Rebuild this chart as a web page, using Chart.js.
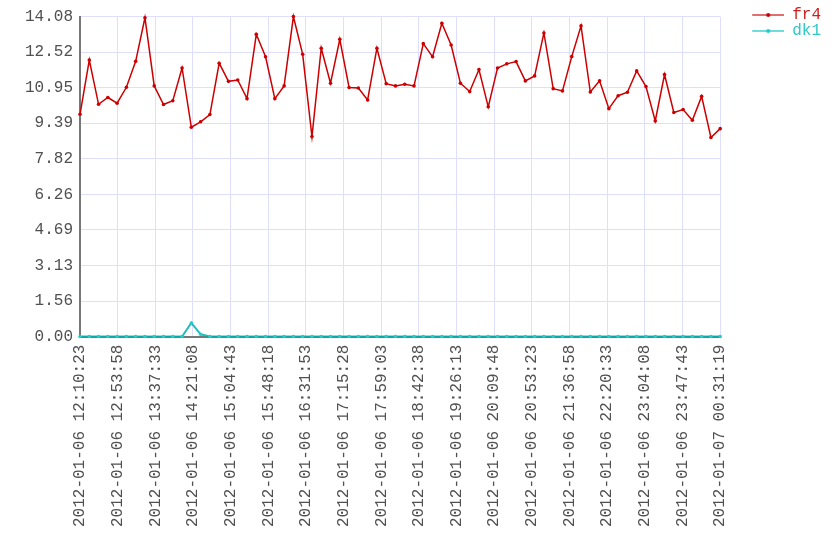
<!DOCTYPE html>
<html>
<head>
  <meta charset="UTF-8" />
  <title>fr4 / dk1</title>
  <script src="https://cdn.jsdelivr.net/npm/chart.js"></script>
  <style>
    body { margin: 0; background: #fff; }
    #wrap { width: 840px; height: 560px; }
  </style>
</head>
<body>
  <div id="wrap"><canvas id="grafico" width="840" height="560"></canvas></div>

  <script>
    // tick labels of the time axis (17 equal steps over the run)
    const xTickLabels = [
      '2012-01-06 12:10:23', '2012-01-06 12:53:58', '2012-01-06 13:37:33',
      '2012-01-06 14:21:08', '2012-01-06 15:04:43', '2012-01-06 15:48:18',
      '2012-01-06 16:31:53', '2012-01-06 17:15:28', '2012-01-06 17:59:03',
      '2012-01-06 18:42:38', '2012-01-06 19:26:13', '2012-01-06 20:09:48',
      '2012-01-06 20:53:23', '2012-01-06 21:36:58', '2012-01-06 22:20:33',
      '2012-01-06 23:04:08', '2012-01-06 23:47:43', '2012-01-07 00:31:19'
    ];
    const yTicks = [0, 1.5644, 3.1289, 4.6933, 6.2578, 7.8222, 9.3867, 10.9511, 12.5156, 14.08];

    const fr4 = [
      9.78, 12.17, 10.22, 10.52, 10.27, 10.97, 12.11, 14.03, 11.03, 10.21,
      10.38, 11.82, 9.21, 9.45, 9.77, 12.03, 11.23, 11.29, 10.47, 13.30,
      12.31, 10.47, 11.03, 14.08, 12.42, 8.80, 12.69, 11.15, 13.08, 10.96,
      10.94, 10.41, 12.69, 11.13, 11.03, 11.10, 11.03, 12.89, 12.31, 13.79,
      12.83, 11.15, 10.78, 11.75, 10.11, 11.82, 12.00, 12.10, 11.25, 11.47,
      13.36, 10.91, 10.81, 12.32, 13.67, 10.76, 11.26, 10.03, 10.60, 10.75,
      11.69, 11.00, 9.49, 11.53, 9.86, 9.99, 9.52, 10.57, 8.76, 9.15
    ];
    const dk1 = [
      0, 0, 0, 0, 0, 0, 0, 0, 0, 0,
      0, 0, 0.60, 0.10, 0, 0, 0, 0, 0, 0,
      0, 0, 0, 0, 0, 0, 0, 0, 0, 0,
      0, 0, 0, 0, 0, 0, 0, 0, 0, 0,
      0, 0, 0, 0, 0, 0, 0, 0, 0, 0,
      0, 0, 0, 0, 0, 0, 0, 0, 0, 0,
      0, 0, 0, 0, 0, 0, 0, 0, 0, 0
    ];

    const nPts = fr4.length - 1;

    // little line+dot sample for the legend
    function amostra(linha, ponto) {
      const c = document.createElement('canvas');
      c.width = 32; c.height = 6;
      const g = c.getContext('2d');
      g.fillStyle = linha;
      g.fillRect(0, 2, 32, 2);
      g.fillStyle = ponto;
      g.beginPath(); g.arc(16, 3, 2, 0, Math.PI * 2); g.fill();
      return c;
    }

    const series = [
      { nome: 'fr4', dados: fr4, cor: '#cc0000', legLinha: '#e07070', legTexto: '#cc2020' },
      { nome: 'dk1', dados: dk1, cor: '#20cccc', legLinha: '#70dddd', legTexto: '#30c8c8' }
    ];

    Chart.defaults.font.family = "'Liberation Mono', monospace";
    Chart.defaults.font.size = 16;
    Chart.defaults.color = '#505050';

    new Chart(document.getElementById('grafico'), {
      type: 'line',
      data: {
        datasets: series.map((s, k) => ({
          label: s.nome,
          data: s.dados.map((v, i) => ({ x: i, y: v })),
          borderColor: k === 1 ? 'rgba(0,175,175,0.85)' : s.cor,
          backgroundColor: s.cor,
          pointBackgroundColor: s.cor,
          pointBorderColor: s.cor,
          borderWidth: k === 1 ? 2 : 1.5,
          pointRadius: 1.8,
          pointBorderWidth: 0,
          tension: 0,
          clip: false,
          order: -k
        }))
      },
      options: {
        responsive: false,
        animation: false,
        layout: { padding: { left: 18, top: 7, right: 9, bottom: 25 } },
        plugins: {
          tooltip: { enabled: false },
          legend: {
            position: 'right',
            align: 'start',
            labels: {
              usePointStyle: true,
              pointStyleWidth: 32,
              padding: 0,
              font: { family: "'Liberation Mono', monospace", size: 16 },
              generateLabels: (chart) => series.map((s, i) => ({
                text: s.nome,
                fontColor: s.legTexto,
                pointStyle: amostra(s.legLinha, s.cor),
                datasetIndex: i,
                hidden: false,
                lineWidth: 0,
                strokeStyle: 'transparent',
                fillStyle: 'transparent'
              }))
            }
          }
        },
        scales: {
          x: {
            type: 'linear',
            min: 0,
            max: nPts,
            afterBuildTicks: (s) => { s.ticks = xTickLabels.map((t, k) => ({ value: k * nPts / (xTickLabels.length - 1) })); },
            ticks: {
              autoSkip: false,
              minRotation: 90,
              maxRotation: 90,
              padding: 8,
              callback: (v, i) => xTickLabels[i]
            },
            grid: { color: '#dedeff', drawTicks: false },
            border: { color: '#777', width: 2 }
          },
          y: {
            min: 0,
            max: 14.08,
            afterBuildTicks: (s) => { s.ticks = yTicks.map(v => ({ value: v })); },
            ticks: { padding: 7, callback: (v) => v.toFixed(2) },
            grid: { color: '#dedeff', drawTicks: false },
            border: { color: '#777', width: 2 }
          },
          espaco: {
            type: 'linear',
            position: 'right',
            display: true,
            ticks: { display: false },
            grid: { display: false, drawTicks: false },
            border: { display: false },
            afterFit: (s) => { s.width = 32; }
          }
        }
      }
    });
  </script>
</body>
</html>
